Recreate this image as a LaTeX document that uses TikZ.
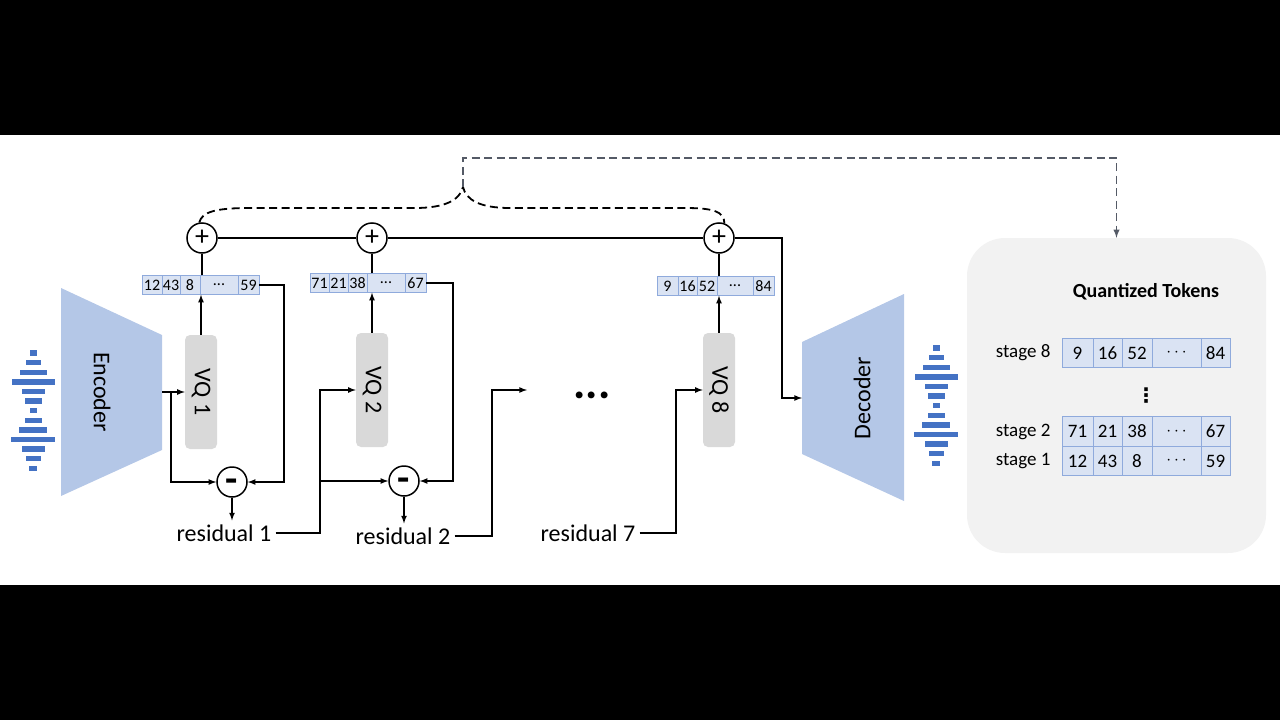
\documentclass[tikz,border=0pt]{standalone}
\usepackage{fontspec}
\setmainfont{Carlito}
\newfontfamily\symfont{DejaVu Sans}
\usepackage{graphicx}
\usetikzlibrary{arrows}
\usetikzlibrary{shapes}
\usetikzlibrary{positioning}

\definecolor{codecblue}{RGB}{180,199,231}
\definecolor{vqgray}{RGB}{217,217,217}
\definecolor{cellfill}{RGB}{218,227,243}
\definecolor{celldraw}{RGB}{143,170,220}
\definecolor{wavebar}{RGB}{68,114,196}
\definecolor{panelgray}{RGB}{242,242,242}
\definecolor{linkgray}{RGB}{84,90,102}

\newcommand\tokdots{...}

\tikzset{
  vqbox/.style={fill=vqgray, rounded corners=5pt, minimum width=32, minimum height=114, inner sep=0, font=\fontsize{24}{24}\selectfont},
  sumnode/.style={circle, draw, line width=1.5pt, fill=white, minimum size=30, inner sep=0, font=\fontsize{28}{28}\selectfont},
  tok/.style={draw=celldraw, fill=cellfill, line width=0.6pt, minimum height=19, inner sep=0, font=\fontsize{16}{16}\selectfont},
  bigtok/.style={draw=celldraw, fill=cellfill, line width=0.8pt, minimum height=29.5, inner sep=0, font=\fontsize{19}{19}\selectfont},
  reslabel/.style={font=\fontsize{24}{24}\selectfont, inner sep=4},
  stagelabel/.style={font=\fontsize{19}{19}\selectfont, anchor=east},
  flow/.style={line width=1.6pt},
  dashlink/.style={line width=1.8pt, dash pattern=on 8pt off 4.5pt},
}

\begin{document}
\begin{tikzpicture}[x=1pt, y=-1pt, >=latex]
\useasboundingbox (0,0) rectangle (1280,720);
\fill[black] (0,0) rectangle (1280,135);
\fill[black] (0,585) rectangle (1280,720);

% waveforms
\foreach \cx/\cy in {33/353, 936/348}
  \foreach \w in {7,15,27,43,23,17,7,17,28,44,23,15,8} {
    \fill[wavebar] ({\cx-\w/2},{\cy-2.7}) rectangle ++(\w,5.4);
    \pgfmathsetmacro\cy{\cy+9.6}
    \global\let\cy\cy
  }

% encoder and decoder
\fill[codecblue] (61,288) -- (162,335) -- (162,450) -- (61,496) -- cycle;
\node[rotate=-90, font=\fontsize{24}{24}\selectfont] (enc) at (102,392) {Encoder};
\coordinate (encout) at (162,392);
\fill[codecblue] (802,342) -- (904,294) -- (904,501) -- (802,454) -- cycle;
\node[rotate=90, font=\fontsize{24}{24}\selectfont] (dec) at (862,398) {Decoder};
\coordinate (decin) at (802,398);

% quantizers
\node[vqbox] (vq1) at (201,392) {\rotatebox{-90}{VQ 1}};
\node[vqbox] (vq2) at (372,390) {\rotatebox{-90}{VQ 2}};
\node[vqbox] (vq8) at (719,390) {\rotatebox{-90}{VQ 8}};

% code rows
\node[minimum width=117, minimum height=19, inner sep=0] (row1) at (200.5,285) {};
\foreach \l/\r/\t [count=\i] in {142/162/12, 162/180/43, 180/200/8, 200/238/\tokdots, 238/259/59}
  \node[tok, minimum width={\r-\l}] (r1c\i) at ({(\l+\r)/2},285) {\t};
\node[minimum width=116, minimum height=19, inner sep=0] (row2) at (368,283) {};
\foreach \l/\r/\t [count=\i] in {310/329/71, 329/348/21, 348/367/38, 367/405/\tokdots, 405/426/67}
  \node[tok, minimum width={\r-\l}] (r2c\i) at ({(\l+\r)/2},283) {\t};
\node[minimum width=117, minimum height=19, inner sep=0] (row8) at (715.5,286) {};
\foreach \l/\r/\t [count=\i] in {657/678/9, 678/697/16, 697/717/52, 717/753/\tokdots, 753/774/84}
  \node[tok, minimum width={\r-\l}] (r8c\i) at ({(\l+\r)/2},286) {\t};

% adders and subtractors
\node[sumnode] (plus1) at (202,238) {+};
\node[sumnode] (plus2) at (372,238) {+};
\node[sumnode] (plus3) at (719,238) {+};
\node[sumnode, font=\fontsize{40}{40}\bfseries] (min1) at (232,482) {\raisebox{-10.5pt}[0pt][0pt]{-}};
\node[sumnode, font=\fontsize{40}{40}\bfseries] (min2) at (404,481) {\raisebox{-10.5pt}[0pt][0pt]{-}};

\node[reslabel] (res1) at (224,533) {residual 1};
\node[reslabel] (res2) at (403,536) {residual 2};
\node[reslabel] (res7) at (588,533) {residual 7};
\node[font=\fontsize{46}{46}\selectfont\bfseries] (more) at (592,395) {\tokdots};

% stage 1
\draw[flow,->] (encout) -- (vq1);
\coordinate (br1) at (171,392);
\draw[flow,->] (br1) |- (min1);
\draw[flow,->] (vq1) -- (vq1 |- row1.south);
\draw[flow] (row1.north -| plus1) -- (plus1);
\draw[flow,->] (row1.east) -- ++(25,0) |- (min1);
\draw[flow,->] (min1) -- (min1 |- res1.north);

% stage 2
\coordinate (br2) at (320,390);
\draw[flow,->] (res1) -| (br2) -- (vq2);
\draw[flow,->] (br2 |- min2) -- (min2);
\draw[flow,->] (vq2) -- (vq2 |- row2.south);
\draw[flow] (row2.north -| plus2) -- (plus2);
\draw[flow,->] (row2.east) -- ++(27,0) |- (min2);
\draw[flow,->] (min2) -- (min2 |- res2.north);
\coordinate (br3) at (492,390);
\coordinate (dotsin) at (527,390);
\draw[flow,->] (res2) -| (br3) -- (dotsin);

% stage 8
\coordinate (br8) at (676,390);
\draw[flow,->] (res7) -| (br8) -- (vq8);
\draw[flow,->] (vq8) -- (vq8 |- row8.south);
\draw[flow] (row8.north -| plus3) -- (plus3);

% sum of all stages into the decoder
\draw[flow] (plus1) -- (plus2);
\draw[flow] (plus2) -- (plus3);
\coordinate (br9) at (782,238);
\draw[flow,->] (plus3) -- (br9) |- (decin);

% brace over the stages
\coordinate (tip) at (463,187);
\coordinate (top) at (463,158);
\draw[dashlink] (plus1.100) .. controls (202,212) and (215,208) .. (250,208) -- (415,208)
  .. controls (445,208) and (460,200) .. (tip)
  .. controls (466,200) and (480,208) .. (510,208) -- (685,208)
  .. controls (715,208) and (724,212) .. (plus3.70);

% quantized tokens panel
\node[fill=panelgray, rounded corners=38pt, minimum width=299, minimum height=315, inner sep=0] (panel) at (1116.5,395.5) {};
\draw[dashlink, linkgray, ->] (tip) -- (top) -| (panel.north);
\node[font=\bfseries\fontsize{20}{20}\selectfont] (title) at (1146,292) {Quantized Tokens};
\foreach \y/\a/\b/\c/\e [count=\j] in {353/9/16/52/84, 431.5/71/21/38/67, 461/12/43/8/59}
  \foreach \l/\r/\t [count=\i] in {1062/1093/\a, 1093/1122/\b, 1122/1152/\c, 1152/1201/$\cdots$, 1201/1230/\e}
    \node[bigtok, minimum width={\r-\l}] (t\j c\i) at ({(\l+\r)/2},\y) {\t};
\node[stagelabel] (lab8) at (1054,353) {stage 8};
\node[stagelabel] (lab2) at (1054,431.5) {stage 2};
\node[stagelabel] (lab1) at (1054,461) {stage 1};
\node[font=\symfont\bfseries\fontsize{20}{20}\selectfont] (vdots) at (1146,396) {⋮};
\end{tikzpicture}
\end{document}
